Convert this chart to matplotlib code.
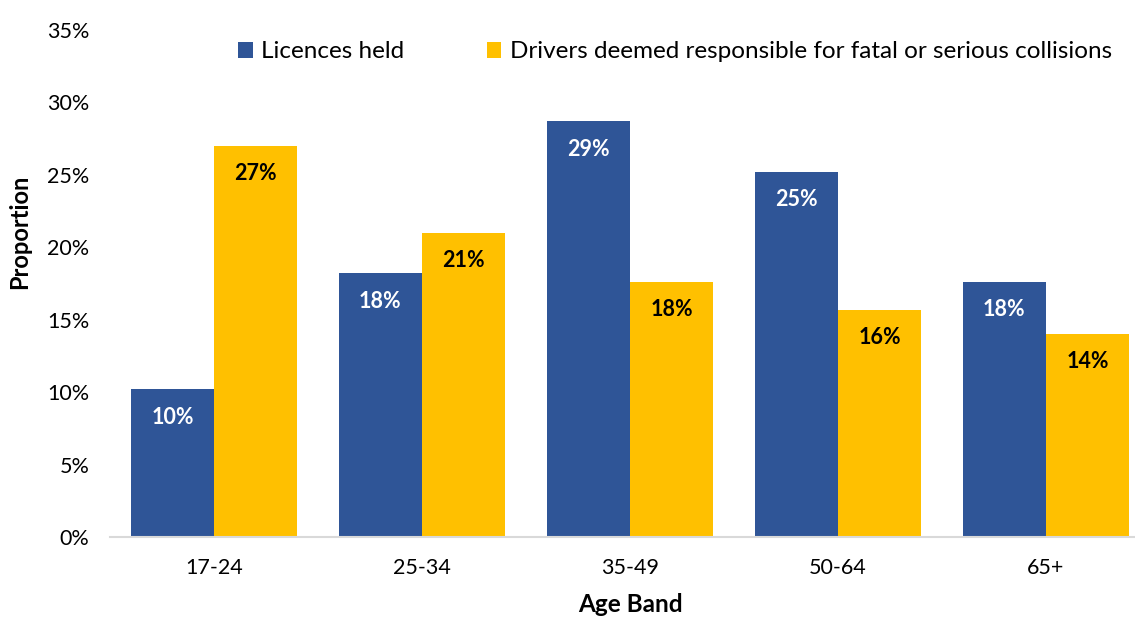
import numpy as np
import matplotlib.pyplot as plt
from matplotlib.ticker import FuncFormatter

plt.rcParams['font.family'] = ['Lato', 'DejaVu Sans']

# data
age_bands = ['17-24', '25-34', '35-49', '50-64', '65+']
licences_held = [10.2, 18.2, 28.7, 25.2, 17.6]
drivers_responsible = [27.0, 21.0, 17.6, 15.7, 14.0]
labels_licences = ['10%', '18%', '29%', '25%', '18%']
labels_drivers = ['27%', '21%', '18%', '16%', '14%']

blue = '#2F5597'
gold = '#FFC000'

fig = plt.figure(figsize=(11.35, 6.17), dpi=100)
ax = fig.add_axes([110 / 1135, 80 / 617, 1040 / 1135, 507 / 617])

x = np.arange(len(age_bands))
w = 0.4
b1 = ax.bar(x - w / 2, licences_held, w, color=blue, label='Licences held')
b2 = ax.bar(x + w / 2, drivers_responsible, w, color=gold,
            label='Drivers deemed responsible for fatal or serious collisions')

# data labels inside top of bars
for bars, labs, col in [(b1, labels_licences, 'white'), (b2, labels_drivers, 'black')]:
    for rect, lab in zip(bars, labs):
        ax.annotate(lab, (rect.get_x() + rect.get_width() / 2, rect.get_height()),
                    xytext=(0, -20), textcoords='offset points', ha='center', va='center',
                    fontsize=15.5, fontweight='bold', color=col)

ax.set_xlim(-0.5, 4.5)
ax.set_ylim(0, 35)
ax.set_yticks(np.arange(0, 36, 5))
ax.yaxis.set_major_formatter(FuncFormatter(lambda v, p: f'{v:.0f}%'))
ax.set_xticks(x)
ax.set_xticklabels(age_bands)
ax.tick_params(axis='both', length=0, labelsize=15.5, colors='black')
ax.tick_params(axis='y', pad=15)
ax.tick_params(axis='x', pad=15)

for s in ['top', 'right', 'left']:
    ax.spines[s].set_visible(False)
ax.spines['bottom'].set_color('#D9D9D9')
ax.spines['bottom'].set_linewidth(1.5)

fig.text(20 / 1135, 1 - 232 / 617, 'Proportion', rotation=90, ha='center', va='center',
         fontsize=17, fontweight='bold')
fig.text(630 / 1135, 1 - 605 / 617, 'Age Band', ha='center', va='center',
         fontsize=17.5, fontweight='bold')

ax.legend(loc='center left', bbox_to_anchor=(238 / 1135, 1 - 52 / 617), bbox_transform=fig.transFigure,
          ncol=2, frameon=False, fontsize=17.5, handlelength=0.6, handleheight=0.6,
          handletextpad=0.35, columnspacing=3.4, borderpad=0, borderaxespad=0)

fig.savefig('out.png', dpi=100)
